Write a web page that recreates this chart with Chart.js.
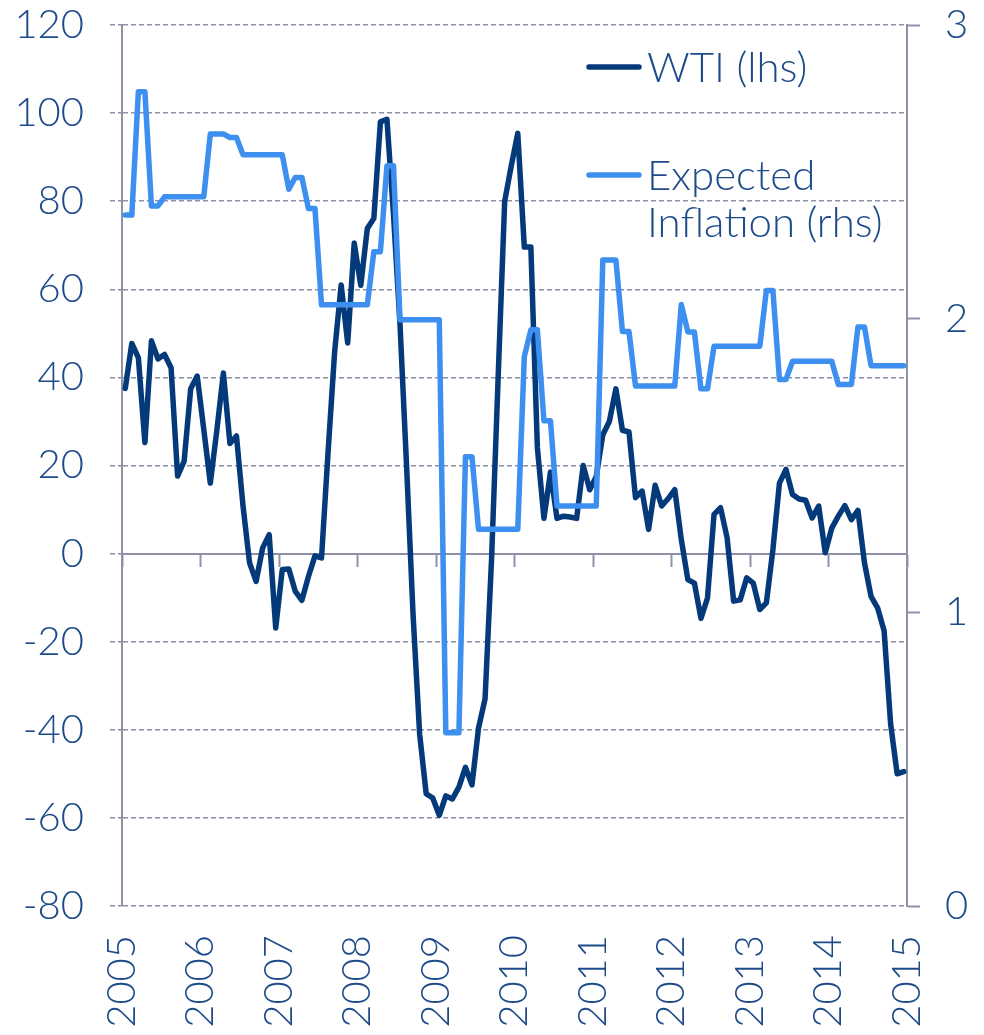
<!DOCTYPE html>
<html>
<head>
<meta charset="utf-8">
<title>WTI vs Expected Inflation</title>
<script src="https://cdn.jsdelivr.net/npm/chart.js@4.4.1/dist/chart.umd.min.js"></script>
<style>
  html, body { margin: 0; padding: 0; background: #ffffff; }
  #wrap { width: 984px; height: 1035px; }
</style>
</head>
<body>
<div id="wrap"><canvas id="chart" width="984" height="1035"></canvas></div>
<script>
// Monthly data, Jan 2005 - Dec 2014
const yearLabels = ['2005', '2006', '2007', '2008', '2009', '2010', '2011', '2012', '2013', '2014', '2015']
const leftRange = [-80, 120]
const rightRange = [0, 3]

// WTI, y/y % change (lhs)
const wti = [
  37.5, 47.7, 44.5, 25.2, 48.3, 44.2, 45.2, 42.2, 17.6, 21, 37.4, 40.3,
  28.2, 16, 28, 41, 25, 26.7, 10.8, -2.1, -6.3, 1.3, 4.3, -16.9,
  -3.6, -3.5, -8.6, -10.6, -5.2, -0.5, -1, 23, 45.7, 61, 47.8, 70.5,
  60.9, 73.8, 76.1, 98, 98.6, 77, 52, 20, -14, -41, -54.5, -55.5,
  -59.4, -55, -55.7, -53, -48.5, -52.5, -39.6, -33, -1, 40, 80, 88,
  95.4, 69.6, 69.6, 24, 8, 18.5, 8, 8.5, 8.3, 8, 20, 14.5,
  17.5, 27, 30, 37.4, 28, 27.6, 12.7, 14.2, 5.5, 15.5, 10.8, 12.5,
  14.5, 3.2, -5.9, -6.7, -14.7, -10.1, 8.9, 10.4, 3.6, -10.8, -10.5, -5.5,
  -6.7, -12.7, -11.2, 0.9, 16, 19.1, 13.4, 12.4, 12.1, 8.1, 10.8, 0.2,
  5.8, 8.5, 10.9, 7.7, 9.8, -2.1, -9.7, -12.3, -17.5, -38.7, -50, -49.5
]

// Expected inflation (rhs)
const expectedInflation = [
  2.353, 2.353, 2.773, 2.773, 2.384, 2.384, 2.415, 2.415, 2.415, 2.415, 2.415, 2.415,
  2.415, 2.629, 2.629, 2.629, 2.617, 2.617, 2.558, 2.558, 2.558, 2.558, 2.558, 2.558,
  2.558, 2.441, 2.481, 2.481, 2.375, 2.375, 2.047, 2.047, 2.047, 2.047, 2.047, 2.047,
  2.047, 2.047, 2.228, 2.228, 2.521, 2.521, 1.996, 1.996, 1.996, 1.996, 1.996, 1.996,
  1.996, 0.59, 0.59, 0.59, 1.53, 1.53, 1.283, 1.283, 1.283, 1.283, 1.283, 1.283,
  1.283, 1.871, 1.962, 1.962, 1.652, 1.652, 1.362, 1.362, 1.362, 1.362, 1.362, 1.362,
  1.362, 2.2, 2.2, 2.2, 1.956, 1.956, 1.771, 1.771, 1.771, 1.771, 1.771, 1.771,
  1.771, 2.048, 1.955, 1.955, 1.761, 1.761, 1.906, 1.906, 1.906, 1.906, 1.906, 1.906,
  1.906, 1.906, 2.096, 2.096, 1.793, 1.793, 1.855, 1.855, 1.855, 1.855, 1.855, 1.855,
  1.855, 1.776, 1.776, 1.776, 1.972, 1.972, 1.84, 1.84, 1.84, 1.84, 1.84, 1.84
]

const navy = '#043a7a'
const lightBlue = '#3d8ff0'
const textColor = '#1d4b8a'
const axisGray = '#8e91a8'
const fontFamily = "Lato, 'Open Sans', sans-serif"

// points sit in the middle of each month
function toPoints(values) {
  return values.map((v, i) => ({ x: i + 0.5, y: v }))
}

// fixed plot box like the original
function fixWidth(w) {
  return (s) => {
    s.width = w
    s.paddingTop = 0
    s.paddingBottom = 0
  }
}

const legendPlugin = {
  id: 'sideLegend',
  afterDraw(chart) {
    const ctx = chart.ctx
    ctx.save()
    ctx.lineCap = 'round'
    ctx.lineWidth = 5.5
    ctx.strokeStyle = navy
    ctx.beginPath()
    ctx.moveTo(589, 67)
    ctx.lineTo(639, 67)
    ctx.stroke()
    ctx.strokeStyle = lightBlue
    ctx.beginPath()
    ctx.moveTo(589, 175)
    ctx.lineTo(639, 175)
    ctx.stroke()
    ctx.fillStyle = textColor
    ctx.font = '300 42px ' + fontFamily
    ctx.textBaseline = 'alphabetic'
    ctx.textAlign = 'left'
    ctx.fillText('WTI (lhs)', 647, 82)
    ctx.fillText('Expected', 647, 190)
    ctx.fillText('Inflation (rhs)', 647, 237)
    ctx.restore()
  }
}

new Chart(document.getElementById('chart'), {
  type: 'line',
  data: {
    datasets: [
      {
        label: 'Expected Inflation (rhs)',
        data: toPoints(expectedInflation),
        yAxisID: 'y1',
        borderColor: lightBlue,
        borderWidth: 5.5,
        borderJoinStyle: 'round',
        borderCapStyle: 'round',
        pointRadius: 0,
        tension: 0,
        order: 0
      },
      {
        label: 'WTI (lhs)',
        data: toPoints(wti),
        yAxisID: 'y',
        borderColor: navy,
        borderWidth: 5.5,
        borderJoinStyle: 'round',
        borderCapStyle: 'round',
        pointRadius: 0,
        tension: 0,
        order: 1
      }
    ]
  },
  options: {
    responsive: false,
    animation: false,
    layout: { padding: { top: 25, left: 0, right: 0, bottom: 0 } },
    plugins: {
      legend: { display: false },
      tooltip: { enabled: false }
    },
    scales: {
      x: {
        type: 'linear',
        position: 'bottom',
        min: 0,
        max: 120,
        afterFit: (s) => {
          s.height = 129
          s.paddingLeft = 0
          s.paddingRight = 0
        },
        grid: { display: false, drawTicks: false },
        border: { display: false },
        ticks: {
          stepSize: 12,
          autoSkip: false,
          minRotation: 90,
          maxRotation: 90,
          padding: 29,
          color: textColor,
          font: { family: fontFamily, size: 40, weight: 300 },
          callback: (v) => yearLabels[v / 12]
        }
      },
      x2: {
        type: 'linear',
        position: { y: 0 },
        min: 0,
        max: 120,
        grid: {
          drawOnChartArea: false,
          drawTicks: true,
          tickLength: 12,
          tickWidth: 2,
          tickColor: axisGray
        },
        border: { display: true, color: axisGray, width: 2 },
        ticks: { display: false, stepSize: 12 }
      },
      y: {
        position: 'left',
        min: leftRange[0],
        max: leftRange[1],
        afterFit: fixWidth(122),
        grid: {
          color: (c) => (c.tick && c.tick.value === 0 ? 'rgba(0,0,0,0)' : axisGray),
          lineWidth: 1.5,
          tickLength: 12,
          tickColor: axisGray,
          tickWidth: 1.5,
          tickBorderDash: [5, 3]
        },
        border: { display: true, color: axisGray, width: 2, dash: [5, 3] },
        ticks: {
          stepSize: 20,
          padding: 26,
          color: textColor,
          font: { family: fontFamily, size: 40, weight: 300 }
        }
      },
      y1: {
        position: 'right',
        min: rightRange[0],
        max: rightRange[1],
        afterFit: fixWidth(77),
        grid: {
          drawOnChartArea: false,
          tickLength: 13,
          tickColor: axisGray,
          tickWidth: 2
        },
        border: { display: true, color: axisGray, width: 2 },
        ticks: {
          stepSize: 1,
          padding: 25,
          color: textColor,
          font: { family: fontFamily, size: 40, weight: 300 }
        }
      }
    }
  },
  plugins: [legendPlugin]
})
</script>
</body>
</html>
